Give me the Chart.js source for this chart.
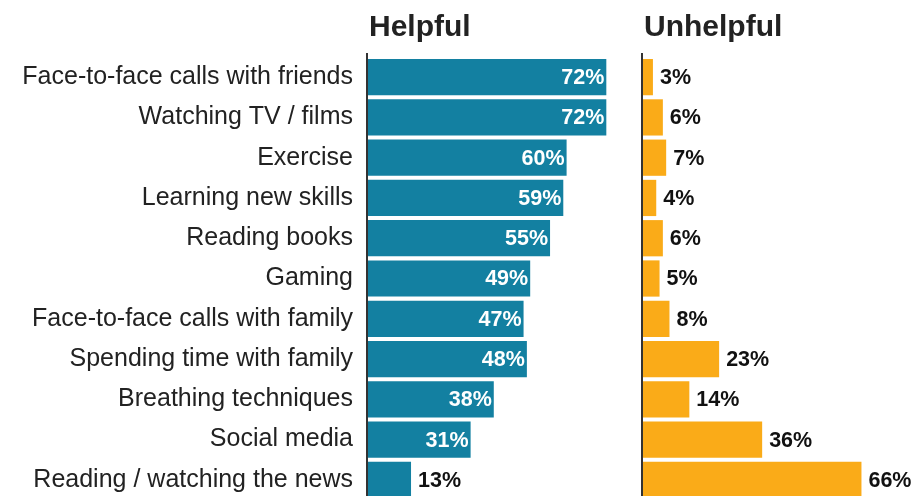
<!DOCTYPE html>
<html>
<head>
<meta charset="utf-8">
<script src="https://cdn.jsdelivr.net/npm/chart.js@4.4.1/dist/chart.umd.min.js"></script>
<style>
  html, body { margin: 0; padding: 0; background: #fff; overflow: hidden; }
  #wrap { position: relative; width: 913px; height: 496px; }
  #left { position: absolute; left: 0; top: 0; }
  #right { position: absolute; left: 630px; top: 0; }
</style>
</head>
<body>
<div id="wrap">
  <canvas id="left" width="630" height="510"></canvas>
  <canvas id="right" width="283" height="510"></canvas>
</div>
<script>
// Données
const categories = [
    'Face-to-face calls with friends',
    'Watching TV / films',
    'Exercise',
    'Learning new skills',
    'Reading books',
    'Gaming',
    'Face-to-face calls with family',
    'Spending time with family',
    'Breathing techniques',
    'Social media',
    'Reading / watching the news'
];
const helpful = [72, 72, 60, 59, 55, 49, 47, 48, 38, 31, 13];
const unhelpful = [3, 6, 7, 4, 6, 5, 8, 23, 14, 36, 66];
const titles = ['Helpful', 'Unhelpful'];

const FONT = '"Liberation Sans", Arial, Helvetica, sans-serif';

// Plugin : titre, ligne d'axe et étiquettes de valeurs
const panelPlugin = {
    id: 'panel',
    afterDatasetsDraw(chart, args, opts) {
        const ctx = chart.ctx;
        const area = chart.chartArea;
        ctx.save();

        // ligne verticale de l'axe
        ctx.strokeStyle = '#333333';
        ctx.lineWidth = 2;
        ctx.beginPath();
        ctx.moveTo(area.left - 1, 53);
        ctx.lineTo(area.left - 1, chart.height);
        ctx.stroke();

        // titre du panneau
        ctx.fillStyle = '#222222';
        ctx.font = 'bold 30px ' + FONT;
        ctx.textAlign = 'left';
        ctx.textBaseline = 'alphabetic';
        ctx.fillText(opts.title, area.left + 1, 36);

        // valeurs
        ctx.font = 'bold 21.5px ' + FONT;
        ctx.textBaseline = 'middle';
        const meta = chart.getDatasetMeta(0);
        meta.data.forEach((bar, i) => {
            const v = chart.data.datasets[0].data[i];
            const label = v + '%';
            if (v >= opts.insideMin) {
                ctx.fillStyle = '#ffffff';
                ctx.textAlign = 'right';
                ctx.fillText(label, bar.x - 2, bar.y + 1);
            } else {
                ctx.fillStyle = '#111111';
                ctx.textAlign = 'left';
                ctx.fillText(label, bar.x + 7, bar.y + 1);
            }
        });
        ctx.restore();
    }
};

function createPanel(id, values, color, opts) {
    const ctx = document.getElementById(id).getContext('2d');
    return new Chart(ctx, {
        type: 'bar',
        data: {
            labels: categories,
            datasets: [{
                data: values,
                backgroundColor: color,
                borderWidth: 0,
                barPercentage: 1,
                categoryPercentage: 0.9
            }]
        },
        options: {
            indexAxis: 'y',
            responsive: false,
            animation: false,
            layout: { padding: { top: 57, bottom: 10, left: opts.padLeft, right: 0 } },
            scales: {
                x: { display: false, min: 0, max: opts.max },
                y: {
                    display: opts.showLabels,
                    grid: { display: false, drawTicks: false },
                    border: { display: false },
                    ticks: {
                        padding: 15,
                        color: '#222222',
                        font: { family: FONT, size: 25 }
                    },
                    afterFit(scale) {
                        if (opts.showLabels) scale.width = 368;
                        scale.paddingTop = 0;
                        scale.paddingBottom = 0;
                    }
                }
            },
            plugins: {
                legend: { display: false },
                tooltip: { enabled: false },
                panel: { title: opts.title, insideMin: opts.insideMin }
            }
        },
        plugins: [panelPlugin]
    });
}

createPanel('left', helpful, '#1380A1', { title: titles[0], max: 262 / 3.31, padLeft: 0, showLabels: true, insideMin: 20 });
createPanel('right', unhelpful, '#FAAB18', { title: titles[1], max: 270 / 3.31, padLeft: 13, showLabels: false, insideMin: 1000 });
</script>
</body>
</html>
